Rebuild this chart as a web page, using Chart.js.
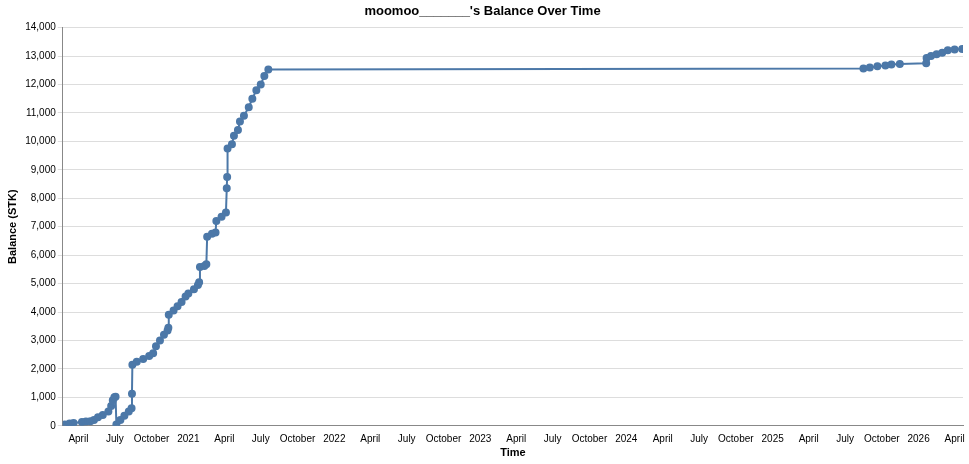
<!DOCTYPE html>
<html><head><meta charset="utf-8">
<script src="https://cdn.jsdelivr.net/npm/chart.js@4/dist/chart.umd.min.js"></script>
<style>html,body{margin:0;padding:0;background:#fff}#c{width:969px;height:464px}</style>
</head><body><div id="c"><canvas id="cv"></canvas></div>
<script>
const dates = ["2020-02-27","2020-03-10","2020-03-20","2020-04-10","2020-04-20","2020-05-01","2020-05-10","2020-05-20","2020-06-01","2020-06-15","2020-06-22","2020-06-26","2020-06-30","2020-07-03",
"2020-07-05","2020-07-15","2020-07-25","2020-08-05","2020-08-12","2020-08-13","2020-08-14","2020-08-25","2020-09-10","2020-09-25","2020-10-05","2020-10-12","2020-10-22","2020-11-01","2020-11-10","2020-11-12","2020-11-13","2020-11-25","2020-12-05","2020-12-15","2020-12-25",
"2021-01-01","2021-01-15","2021-01-25","2021-01-28","2021-01-30","2021-02-10","2021-02-15","2021-02-17","2021-03-01","2021-03-10","2021-03-12","2021-03-25","2021-04-05","2021-04-07","2021-04-08","2021-04-09","2021-04-20","2021-04-25","2021-05-05","2021-05-10","2021-05-20","2021-06-01","2021-06-10","2021-06-20","2021-07-01","2021-07-10","2021-07-20",
"2025-08-16","2025-09-01","2025-09-20","2025-10-10","2025-10-25","2025-11-15","2026-01-20","2026-01-21","2026-02-01","2026-02-15","2026-03-01","2026-03-15","2026-04-01","2026-04-20"];
const balances = [50,80,100,130,150,160,200,300,380,500,700,900,1000,1020,
50,200,350,500,620,1130,2150,2250,2350,2450,2550,2800,3000,3200,3350,3450,3900,4050,4200,4350,4550,
4650,4800,4950,5050,5580,5620,5680,6650,6750,6800,7200,7350,7500,8350,8750,9750,9900,10200,10400,10700,10900,11200,11500,11800,12000,12300,12530,
12560,12600,12640,12670,12700,12720,12750,12930,13000,13060,13120,13200,13230,13250];
const yTicks = [0,1000,2000,3000,4000,5000,6000,7000,8000,9000,10000,11000,12000,13000,14000];
const months = ["January","February","March","April","May","June","July","August","September","October","November","December"];
const ts = s => { const [y,m,d]=s.split("-").map(Number); return Date.UTC(y,m-1,d); };
const pts = dates.map((d,i)=>({x:ts(d),y:balances[i]}));
new Chart(document.getElementById('cv'),{
  type:'line',
  data:{datasets:[{data:pts,borderColor:'#4c78a8',backgroundColor:'#4c78a8',borderWidth:2,pointRadius:3,pointHoverRadius:3,tension:0}]},
  options:{responsive:true,maintainAspectRatio:false,animation:false,
    layout:{padding:{left:2,right:6,top:0,bottom:0}},
    plugins:{legend:{display:false},tooltip:{enabled:false},
      title:{display:true,text:"moomoo_______'s Balance Over Time",color:'#000',font:{family:'Liberation Sans, Arial',size:13,weight:'bold'},padding:{top:4,bottom:8}}},
    scales:{
      x:{type:'linear',min:ts("2020-02-22"),max:ts("2026-04-22"),
        afterBuildTicks:a=>{const t=[];for(let y=2020;y<=2026;y++)for(let m=0;m<12;m+=3){const v=Date.UTC(y,m,1);if(v>=a.min&&v<=a.max)t.push({value:v});}a.ticks=t;},
        ticks:{autoSkip:false,maxRotation:0,color:'#000',font:{family:'Liberation Sans, Arial',size:10},padding:2,
          callback:v=>{const d=new Date(v);return d.getUTCMonth()===0?String(d.getUTCFullYear()):months[d.getUTCMonth()];}},
        grid:{display:false,drawTicks:true,tickLength:5,color:'#888'},border:{color:'#888'},
        title:{display:true,text:'Time',color:'#000',font:{family:'Liberation Sans, Arial',size:11,weight:'bold'},padding:{top:0}}},
      y:{min:0,max:14000,afterBuildTicks:a=>{a.ticks=yTicks.map(v=>({value:v}));},
        ticks:{color:'#000',font:{family:'Liberation Sans, Arial',size:10},padding:2,callback:v=>v.toLocaleString('en-US')},
        grid:{color:'#ddd',tickLength:5},border:{color:'#888'},
        title:{display:true,text:'Balance (STK)',color:'#000',font:{family:'Liberation Sans, Arial',size:11,weight:'bold'},padding:{bottom:4}}}
    }}
});
</script></body></html>
